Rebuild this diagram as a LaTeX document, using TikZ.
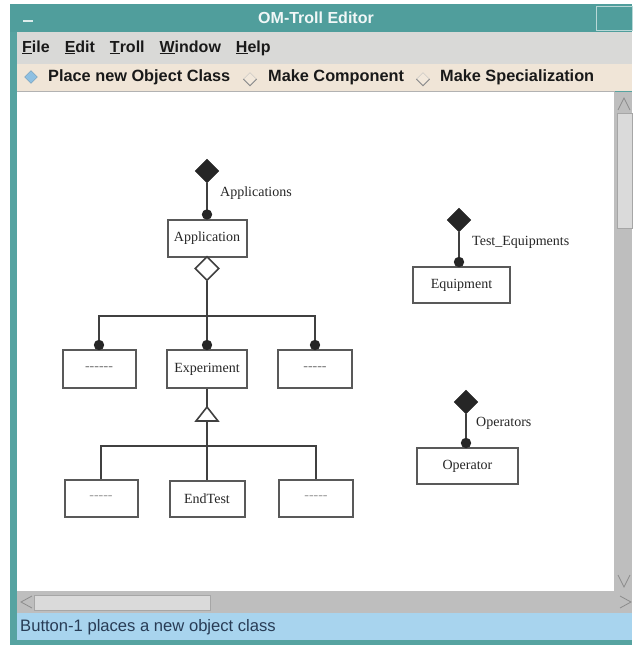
\documentclass[tikz,border=0pt]{standalone}
\usepackage{fontspec}
\setmainfont{Liberation Serif}
\setsansfont{Liberation Sans}
\usetikzlibrary{shapes.geometric}
\definecolor{frameteal}{RGB}{86,163,161}
\definecolor{titleteal}{RGB}{80,158,156}
\definecolor{menugray}{RGB}{217,217,215}
\definecolor{toolpeach}{RGB}{240,229,215}
\definecolor{troughgray}{RGB}{190,190,190}
\definecolor{thumbgray}{RGB}{218,218,218}
\definecolor{statusblue}{RGB}{168,212,238}
\definecolor{statustext}{RGB}{40,60,85}
\definecolor{radioblue}{RGB}{142,192,226}
\newcommand\topdot[1]{\fill[black!85] ([yshift=4pt]#1) circle[radius=5.2pt];}
\begin{document}
\begin{tikzpicture}[x=1pt,y=-1pt,
  classbox/.style={draw=black!65, line width=2pt,
    fill=white, inner sep=0pt, font=\fontsize{14}{16}\selectfont, text=black!85},
  agg/.style={diamond, fill=black!85, draw=black!85, minimum width=24pt, minimum height=24pt, inner sep=0pt},
  hollowagg/.style={diamond, fill=white, draw=black!75, line width=1.6pt, minimum width=24pt, minimum height=24pt, inner sep=0pt},
  conn/.style={draw=black!75, line width=2pt},
  rolelabel/.style={anchor=west, inner sep=0pt, font=\fontsize{14}{16}\selectfont, text=black!85},
  uitext/.style={anchor=west, inner sep=0pt, font=\sffamily\bfseries\fontsize{16.3}{18}\selectfont, text=black!90},
  radiooff/.style={diamond, minimum width=13pt, minimum height=13pt, inner sep=0pt, fill=toolpeach!90!white, draw=black!25},
]
\useasboundingbox (0,0) rectangle (632,645);
\fill[white] (0,0) rectangle (632,645);
% window frame
\fill[frameteal] (10,4) rectangle (632,645);
\fill[titleteal] (10,4) rectangle (632,32);
\draw[white!80!titleteal, line width=1.2pt] (23,21) -- (33,21);
\draw[white!60!titleteal, line width=0.6pt] (596,6) rectangle (632,30);
\node[font=\sffamily\bfseries\fontsize{16}{18}\selectfont, text=white!92!titleteal, inner sep=0pt] (title) at (316,18) {OM-Troll Editor};
% menu bar
\fill[menugray] (17,32) rectangle (632,64);
\node[uitext, font=\sffamily\bfseries\fontsize{16}{18}\selectfont] (menu) at (22,48)
  {\underline{F}ile\hspace{15pt}\underline{E}dit\hspace{15pt}\underline{T}roll\hspace{15pt}\underline{W}indow\hspace{15pt}\underline{H}elp};
% toolbar
\fill[toolpeach] (17,64) rectangle (632,91);
\node[diamond, minimum width=13pt, minimum height=13pt, inner sep=0pt, fill=radioblue, draw=radioblue!80!black] (rb1) at (31,77) {};
\node[uitext] (t1) at (48,77) {Place new Object Class};
\node[radiooff] (rb2) at (250,79) {};
\draw[black!45, line width=0.8pt] (rb2.west) -- (rb2.south) -- (rb2.east);
\node[uitext] (t2) at (268,77) {Make Component};
\node[radiooff] (rb3) at (423,79) {};
\draw[black!45, line width=0.8pt] (rb3.west) -- (rb3.south) -- (rb3.east);
\node[uitext] (t3) at (440,77) {Make Specialization};
% canvas
\fill[white] (17,91) rectangle (614,591);
\draw[black!30, line width=0.8pt] (17,91) -- (614,91) -- (614,591);
% vertical scrollbar
\fill[troughgray] (614,92) rectangle (632,591);
\fill[thumbgray] (617,113) rectangle (632,228);
\draw[black!35] (617,113) rectangle (632,228);
\draw[black!45, line width=0.8pt] (618,110) -- (624,98) -- (630,110);
\draw[black!45, line width=0.8pt] (618,575) -- (624,587) -- (630,575);
% horizontal scrollbar
\fill[troughgray] (17,591) rectangle (632,613);
\fill[thumbgray] (34,595) rectangle (210,610);
\draw[black!35] (34,595) rectangle (210,610);
\draw[black!45, line width=0.8pt] (32,596) -- (21,602) -- (32,608);
\draw[black!45, line width=0.8pt] (620,596) -- (631,602) -- (620,608);
% status bar
\fill[statusblue] (17,613) rectangle (632,640);
\node[anchor=west, inner sep=0pt, font=\sffamily\fontsize{16.6}{18}\selectfont, text=statustext] (status) at (20,627) {Button-1 places a new object class};

% ---------------- diagram ----------------
\node[classbox, minimum width=79pt, minimum height=37pt] (app) at (207,238) {Application};
\node[classbox, minimum width=80pt, minimum height=38pt] (exp) at (207,369) {Experiment};
\node[classbox, minimum width=73pt, minimum height=38pt] (l2) at (99,369) {\textcolor{black!55}{-{}-{}-{}-{}-{}-}};
\node[classbox, minimum width=74pt, minimum height=38pt] (r2) at (315,369) {\textcolor{black!55}{-{}-{}-{}-{}-}};
\node[classbox, minimum width=73pt, minimum height=37pt] (l3) at (101,498) {\textcolor{black!40}{-{}-{}-{}-{}-}};
\node[classbox, minimum width=75pt, minimum height=36pt] (endt) at (207,498.5) {EndTest};
\node[classbox, minimum width=74pt, minimum height=37pt] (r3) at (316,498) {\textcolor{black!40}{-{}-{}-{}-{}-}};
\node[classbox, minimum width=97pt, minimum height=36pt] (equip) at (461.5,285) {Equipment};
\node[classbox, minimum width=101pt, minimum height=36pt] (oper) at (467.5,466) {Operator};

\node[agg] (appD) at (207,171) {};
\node[agg] (eqD) at (459,220) {};
\node[agg] (opD) at (466,402) {};
\node[hollowagg] (appH) at (207,268.5) {};

\node[rolelabel] (lapp) at (220,193) {Applications};
\node[rolelabel] (leq) at (472,242) {Test\_Equipments};
\node[rolelabel] (lop) at (476,423) {Operators};

% component connectors
\draw[conn] (appD.south) -- (appD.south |- app.north);
\topdot{appD.south |- app.north}
\draw[conn] (eqD.south) -- (eqD.south |- equip.north);
\topdot{eqD.south |- equip.north}
\draw[conn] (opD.south) -- (opD.south |- oper.north);
\topdot{opD.south |- oper.north}

% aggregation tree
\coordinate (bar1) at (207,316);
\draw[conn] (appH.south) -- (exp.north);
\draw[conn] (l2.north) -- (l2.north |- bar1) -- (r2.north |- bar1) -- (r2.north);
\topdot{l2.north}
\topdot{exp.north}
\topdot{r2.north}

% specialization tree
\coordinate (triTop) at (207,407);
\coordinate (triBase) at (207,421);
\coordinate (bar2) at (207,446);
\draw[conn] (exp.south) -- (triTop);
\draw[conn] (triBase) -- (endt.north);
\draw[conn] (l3.north) -- (l3.north |- bar2) -- (r3.north |- bar2) -- (r3.north);
\draw[draw=black!75, line width=1.6pt, fill=white, line join=miter] (triTop) -- ++(11,14) -- ++(-22,0) -- cycle;
\end{tikzpicture}
\end{document}
